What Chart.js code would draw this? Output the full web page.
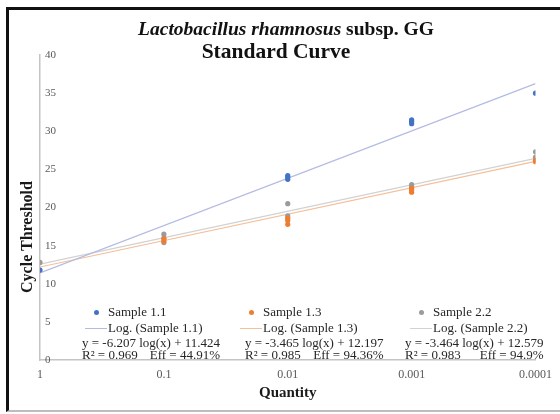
<!DOCTYPE html>
<html>
<head>
<meta charset="utf-8">
<script src="https://cdn.jsdelivr.net/npm/chart.js@4.4.0/dist/chart.umd.min.js"></script>
<style>
  html, body { margin: 0; padding: 0; background: #fff; }
  #wrap { position: relative; width: 560px; height: 414px; overflow: hidden;
          font-family: "Liberation Serif", "Times New Roman", serif; color: #262626; }
  #chart { position: absolute; left: 0; top: 0; }
  #frame { position: absolute; left: 6px; top: 7px; width: 560px; height: 405px; box-sizing: border-box;
           border-left: 3px solid #111; border-top: 3px solid #111; border-bottom: 2px solid #bdbdbd;
           pointer-events: none; }
  .title { position: absolute; transform: translateX(-50%); white-space: nowrap; font-weight: bold; color: #111; }
  #ytitle { position: absolute; left: 27px; top: 237px; white-space: nowrap; font-weight: bold; font-size: 16px;
            color: #1a1a1a; transform: translate(-50%, -50%) rotate(-90deg); }
  .lg { position: absolute; font-size: 13px; line-height: 13px; white-space: nowrap; }
  .dot { position: absolute; width: 5px; height: 5px; border-radius: 50%; }
  .swatch { position: absolute; width: 22px; height: 1px; }
  .eq { position: absolute; font-size: 13px; line-height: 12px; white-space: nowrap; }
  .eq .r { display: flex; justify-content: space-between; }
</style>
</head>
<body>
<div id="wrap">
  <canvas id="chart" width="560" height="414"></canvas>
  <div class="title" style="left:286px; top:19px; font-size:19.5px; line-height:20px;"><i>Lactobacillus rhamnosus</i> subsp. GG</div>
  <div class="title" style="left:276px; top:40px; font-size:21.5px; line-height:22px;">Standard Curve</div>
  <div id="ytitle">Cycle Threshold</div>
  <div id="legend"></div>
  <div id="frame"></div>
</div>
<script>
// dilution series (x) and the labels shown under the axis
const quantities = [1, 0.1, 0.01, 0.001, 0.0001];
const quantityLabels = ['1', '0.1', '0.01', '0.001', '0.0001'];

const sampleNames = ['Sample 1.1', 'Sample 1.3', 'Sample 2.2'];

// Ct replicates, one inner list per quantity
const ct11 = [[11.8], [], [23.7, 24.0, 24.2], [31.0, 31.3, 31.5], [35.0]];
const ct13 = [[], [15.6, 15.9], [17.8, 18.3, 18.6], [22.0, 22.3, 22.5], [26.0, 26.2]];
const ct22 = [[12.8], [15.4, 16.0, 16.5], [18.9, 20.5], [22.7, 23.0], [26.6, 27.3]];

// log trendline fits: y = slope * log(x) + intercept
const slopes = [-6.207, -3.465, -3.464];
const intercepts = [11.424, 12.197, 12.579];
const r2 = ['0.969', '0.985', '0.983'];
const eff = ['44.91%', '94.36%', '94.9%'];

const pointColors = ['#4472c4', '#ed7d31', '#9b9b9b'];
const lineColors = ['#b3bbe2', '#f5bf98', '#d2d2d2'];
const serif = '"Liberation Serif", "Times New Roman", serif';

const toPoints = rows => rows.flatMap((vals, i) => vals.map(v => ({ x: quantities[i], y: v })));
const fitLine = k => [quantities[0], quantities[quantities.length - 1]]
  .map(q => ({ x: q, y: slopes[k] * Math.log10(q) + intercepts[k] }));

const replicates = [ct11, ct13, ct22];
const datasets = [];
replicates.forEach((rows, k) => {
  datasets.push({
    label: sampleNames[k],
    data: toPoints(rows),
    backgroundColor: pointColors[k],
    borderWidth: 0,
    pointRadius: 2.6,
    showLine: false,
    order: 0
  });
  datasets.push({
    label: 'Log. (' + sampleNames[k] + ')',
    data: fitLine(k),
    borderColor: lineColors[k],
    borderWidth: 1.2,
    pointRadius: 0,
    showLine: true,
    order: 1
  });
});

new Chart(document.getElementById('chart'), {
  type: 'scatter',
  data: { datasets },
  options: {
    responsive: false,
    animation: false,
    events: [],
    layout: { padding: { top: 55, right: 18, left: 0, bottom: 0 } },
    plugins: { legend: { display: false }, tooltip: { enabled: false } },
    scales: {
      x: {
        type: 'logarithmic',
        min: 0.0001,
        max: 1,
        reverse: true,
        grid: { display: false, drawTicks: false },
        border: { display: true, color: '#c4c4c8', width: 1.5 },
        afterBuildTicks: s => { s.ticks = quantities.map(v => ({ value: v })); },
        afterFit: s => { s.height = 54; },
        ticks: {
          autoSkip: false,
          maxRotation: 0,
          padding: 8,
          color: '#595959',
          font: { family: serif, size: 12 },
          callback: v => quantityLabels[quantities.indexOf(v)]
        },
        title: {
          display: true,
          text: 'Quantity',
          color: '#1a1a1a',
          font: { family: serif, size: 15, weight: 'bold' },
          padding: { top: 0, bottom: 12 }
        }
      },
      y: {
        min: 0,
        max: 40,
        grid: { display: false, drawTicks: false },
        border: { display: true, color: '#c4c4c8', width: 1.5 },
        afterFit: s => { s.width = 40; },
        ticks: {
          stepSize: 5,
          mirror: true,
          padding: 5,
          color: '#595959',
          font: { family: serif, size: 11 }
        }
      }
    }
  }
});

// legend with trendline equations
const symX = [85, 240, 410];
const eqX = [82, 245, 405];
const legend = document.getElementById('legend');
sampleNames.forEach((name, k) => {
  const x = symX[k];
  legend.insertAdjacentHTML('beforeend',
    `<div class="dot" style="left:${x + 9}px; top:${310}px; background:${pointColors[k]}"></div>` +
    `<div class="lg" style="left:${x + 23}px; top:${305}px">${name}</div>` +
    `<div class="swatch" style="left:${x}px; top:${328}px; background:${lineColors[k]}"></div>` +
    `<div class="lg" style="left:${x + 23}px; top:${321}px">Log. (${name})</div>` +
    `<div class="eq" style="left:${eqX[k]}px; top:${337}px">` +
      `<div>y = ${slopes[k].toFixed(3)} log(x) + ${intercepts[k].toFixed(3)}</div>` +
      `<div class="r"><span>R² = ${r2[k]}</span><span>Eff = ${eff[k]}</span></div>` +
    `</div>`);
});
</script>
</body>
</html>
